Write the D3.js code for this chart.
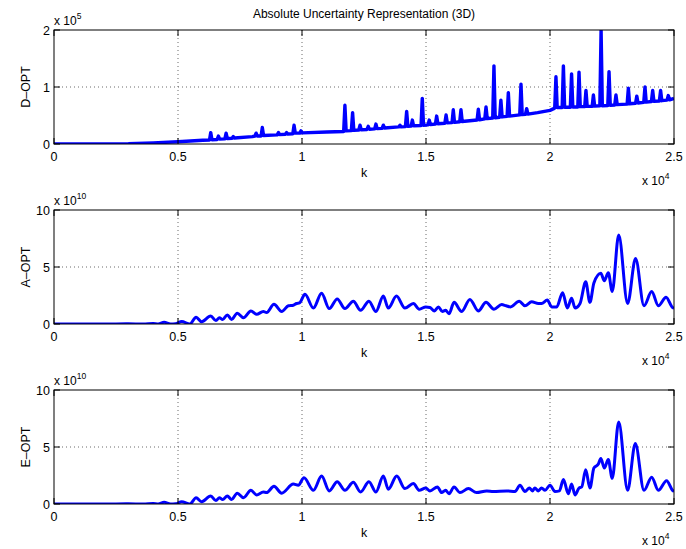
<!DOCTYPE html>
<html>
<head>
<meta charset="utf-8">
<script src="https://cdn.jsdelivr.net/npm/d3@7"></script>
<style>
  body { margin: 0; background: #fff; }
  text { font-family: "Liberation Sans", Arial, sans-serif; fill: #000; }
</style>
</head>
<body>
<svg id="fig" width="686" height="549"></svg>
<script>
// k in units of 1e4, values in units of the axis exponent
var xTicks = [0, 0.5, 1, 1.5, 2, 2.5];
var xTickLabels = ["0", "0.5", "1", "1.5", "2", "2.5"];

var dTicks = [0, 1, 2];
var aTicks = [0, 5, 10];
var eTicks = [0, 5, 10];

var dOpt = [
  [0,0],[0.2,0.002],[0.3,0.006],[0.4,0.02],[0.5,0.04],[0.6,0.065],
  [0.627,0.07],[0.632,0.2],[0.637,0.075],
  [0.658,0.08],[0.663,0.14],[0.668,0.085],
  [0.689,0.09],[0.694,0.19],[0.699,0.095],
  [0.718,0.1],[0.723,0.13],[0.728,0.105],
  [0.8,0.13],[0.81,0.14],[0.815,0.19],[0.82,0.14],
  [0.835,0.14],[0.84,0.29],[0.845,0.15],
  [0.9,0.16],[0.905,0.2],[0.91,0.165],
  [0.933,0.17],[0.938,0.2],[0.943,0.175],
  [0.963,0.18],[0.968,0.33],[0.973,0.19],
  [0.991,0.19],[0.996,0.23],[1.001,0.195],
  [1.1,0.21],[1.168,0.22],[1.173,0.68],[1.178,0.23],
  [1.199,0.235],[1.204,0.55],[1.209,0.24],
  [1.229,0.245],[1.234,0.33],[1.239,0.25],
  [1.262,0.255],[1.267,0.31],[1.272,0.26],
  [1.293,0.265],[1.298,0.35],[1.303,0.27],
  [1.323,0.275],[1.328,0.33],[1.333,0.28],
  [1.39,0.3],[1.395,0.33],[1.4,0.3],
  [1.417,0.305],[1.422,0.57],[1.427,0.31],
  [1.44,0.315],[1.445,0.42],[1.45,0.32],
  [1.48,0.325],[1.485,0.8],[1.49,0.33],
  [1.508,0.335],[1.513,0.42],[1.518,0.34],
  [1.538,0.35],[1.543,0.49],[1.548,0.355],
  [1.576,0.365],[1.581,0.51],[1.586,0.37],
  [1.605,0.375],[1.61,0.6],[1.615,0.38],
  [1.636,0.39],[1.641,0.6],[1.646,0.395],
  [1.706,0.42],[1.711,0.61],[1.716,0.425],
  [1.737,0.44],[1.742,0.65],[1.747,0.445],
  [1.769,0.455],[1.774,1.37],[1.779,0.46],
  [1.797,0.47],[1.802,0.77],[1.807,0.475],
  [1.827,0.485],[1.832,0.9],[1.837,0.49],
  [1.878,0.51],[1.883,1.05],[1.888,0.515],
  [1.901,0.52],[1.906,0.62],[1.911,0.525],
  [1.95,0.55],[2.0,0.59],[2.015,0.62],
  [2.019,0.63],[2.024,1.18],[2.029,0.64],
  [2.049,0.64],[2.054,1.37],[2.059,0.645],
  [2.082,0.645],[2.087,1.23],[2.092,0.65],
  [2.112,0.65],[2.117,1.26],[2.122,0.655],
  [2.14,0.655],[2.145,0.94],[2.15,0.66],
  [2.17,0.66],[2.175,0.86],[2.18,0.665],
  [2.201,0.67],[2.206,2.0],[2.211,0.67],
  [2.233,0.675],[2.238,1.27],[2.243,0.68],
  [2.261,0.685],[2.266,0.86],[2.271,0.69],
  [2.311,0.7],[2.316,0.98],[2.321,0.705],
  [2.345,0.715],[2.35,0.84],[2.355,0.72],
  [2.378,0.73],[2.383,1.0],[2.388,0.735],
  [2.409,0.745],[2.414,0.94],[2.419,0.75],
  [2.441,0.755],[2.446,0.94],[2.451,0.76],
  [2.472,0.77],[2.477,0.85],[2.482,0.775],
  [2.5,0.8]
];

var aOpt = [
  [0,0],[0.2,0],[0.3,0.02],[0.36,0],[0.4,0.05],[0.42,0],[0.444,0.15],[0.47,0],[0.49,0.02],
  [0.515,0.22],[0.548,0],[0.573,0.6],[0.595,0.2],[0.632,0.7],[0.653,0.3],[0.667,0.55],
  [0.68,0.4],[0.699,0.8],[0.716,0.4],[0.739,0.95],[0.764,0.55],[0.794,1.15],[0.817,0.85],
  [0.844,1.1],[0.857,1.0],[0.887,1.73],[0.918,1.1],[0.945,1.6],[0.965,1.65],[0.978,1.8],
  [0.99,1.85],[1.012,2.6],[1.046,1.4],[1.079,2.7],[1.11,1.35],[1.142,2.2],[1.173,1.35],
  [1.207,2.0],[1.236,1.2],[1.27,2.0],[1.298,1.1],[1.328,2.45],[1.348,1.4],[1.381,2.45],
  [1.415,1.4],[1.449,1.8],[1.473,1.3],[1.499,1.5],[1.516,1.45],[1.534,1.15],[1.55,1.5],
  [1.566,1.1],[1.579,1.2],[1.593,0.9],[1.613,1.9],[1.644,1.1],[1.677,2.15],[1.711,1.15],
  [1.742,1.9],[1.774,1.3],[1.805,1.7],[1.823,1.6],[1.841,1.5],[1.876,2.0],[1.899,1.6],
  [1.926,1.95],[1.953,1.8],[1.966,1.8],[1.989,2.1],[2.007,1.5],[2.027,1.5],[2.051,2.75],
  [2.07,1.4],[2.087,2.25],[2.101,1.4],[2.121,1.8],[2.144,3.7],[2.161,1.9],[2.177,3.6],
  [2.205,4.45],[2.219,3.8],[2.235,4.5],[2.251,2.85],[2.277,7.8],[2.313,1.8],[2.345,5.75],
  [2.379,1.6],[2.41,2.85],[2.437,1.6],[2.468,2.35],[2.494,1.45],[2.5,1.4]
];

var eOpt = [
  [0,0],[0.2,0],[0.3,0.02],[0.36,0],[0.4,0.05],[0.42,0],[0.444,0.15],[0.47,0],[0.49,0.02],
  [0.515,0.2],[0.548,0],[0.573,0.55],[0.595,0.2],[0.632,0.7],[0.653,0.3],[0.667,0.55],
  [0.68,0.4],[0.699,0.7],[0.716,0.4],[0.739,0.95],[0.764,0.55],[0.794,1.2],[0.817,0.8],
  [0.844,1.05],[0.857,1.0],[0.887,1.55],[0.918,0.95],[0.965,1.75],[0.985,1.65],[1.008,2.3],
  [1.046,1.2],[1.079,2.45],[1.11,1.15],[1.142,1.95],[1.173,1.2],[1.207,1.9],[1.236,1.05],
  [1.27,1.95],[1.298,1.05],[1.328,2.45],[1.348,1.3],[1.382,2.45],[1.415,1.35],[1.449,1.8],
  [1.473,1.2],[1.499,1.4],[1.516,1.15],[1.546,1.5],[1.563,1.0],[1.579,1.2],[1.593,0.9],
  [1.613,1.5],[1.637,1.0],[1.671,1.35],[1.704,1.0],[1.745,1.15],[1.771,1.1],[1.825,1.15],
  [1.859,1.1],[1.879,1.65],[1.899,1.1],[1.917,1.4],[1.929,1.15],[1.939,1.4],[1.953,1.15],
  [1.966,1.4],[1.98,1.2],[2.0,1.65],[2.02,1.1],[2.038,1.15],[2.054,2.15],[2.074,0.9],
  [2.087,1.75],[2.101,0.8],[2.117,1.4],[2.128,1.5],[2.144,3.0],[2.161,1.4],[2.177,3.15],
  [2.195,3.5],[2.205,4.0],[2.219,3.15],[2.235,3.9],[2.251,2.25],[2.277,7.2],[2.313,1.2],
  [2.344,5.3],[2.379,1.2],[2.41,2.35],[2.437,1.2],[2.47,2.05],[2.494,1.2],[2.5,1.1]
];

var svg = d3.select("#fig");
var left = 54, right = 674;
var panelH = 114;

var x = d3.scaleLinear().domain([0, 2.5]).range([left, right]);

var panels = [
  {top: 30,  label: "D\u2013OPT", exp: "5",  ticks: dTicks, max: 2,  data: dOpt, curve: d3.curveLinear, sw: 3.4},
  {top: 210, label: "A\u2013OPT", exp: "10", ticks: aTicks, max: 10, data: aOpt, curve: d3.curveMonotoneX, sw: 3},
  {top: 390, label: "E\u2013OPT", exp: "10", ticks: eTicks, max: 10, data: eOpt, curve: d3.curveMonotoneX, sw: 3}
];

svg.append("text")
    .attr("x", 364).attr("y", 18)
    .attr("text-anchor", "middle")
    .style("font-size", "12px")
    .text("Absolute Uncertainty Representation (3D)");

panels.forEach(function(p, i) {
  var bottom = p.top + panelH;
  var y = d3.scaleLinear().domain([0, p.max]).range([bottom, p.top]);
  var g = svg.append("g");

  g.append("clipPath").attr("id", "clip" + i)
    .append("rect")
      .attr("x", left).attr("y", p.top)
      .attr("width", right - left).attr("height", panelH);

  // dotted grid
  g.selectAll(".gx")
    .data(xTicks.slice(1, -1))
    .join("line")
      .attr("x1", d => x(d)).attr("x2", d => x(d))
      .attr("y1", p.top).attr("y2", bottom)
      .attr("stroke", "#444").attr("stroke-width", 0.8)
      .attr("stroke-dasharray", "1,3");
  g.selectAll(".gy")
    .data(p.ticks.slice(1, -1))
    .join("line")
      .attr("x1", left).attr("x2", right)
      .attr("y1", d => y(d)).attr("y2", d => y(d))
      .attr("stroke", "#444").attr("stroke-width", 0.8)
      .attr("stroke-dasharray", "1,3");

  var line = d3.line()
      .x(d => x(d[0]))
      .y(d => y(d[1]))
      .curve(p.curve);

  g.append("path")
      .datum(p.data)
      .attr("clip-path", "url(#clip" + i + ")")
      .attr("d", line)
      .attr("fill", "none")
      .attr("stroke", "#0000ff")
      .attr("stroke-width", p.sw)
      .attr("stroke-linejoin", "round");

  // box
  g.append("rect")
      .attr("x", left).attr("y", p.top)
      .attr("width", right - left).attr("height", panelH)
      .attr("fill", "none").attr("stroke", "#000").attr("stroke-width", 1);

  // ticks (inside, all four sides)
  xTicks.forEach(function(t) {
    g.append("line").attr("x1", x(t)).attr("x2", x(t))
      .attr("y1", bottom).attr("y2", bottom - 6).attr("stroke", "#000");
    g.append("line").attr("x1", x(t)).attr("x2", x(t))
      .attr("y1", p.top).attr("y2", p.top + 6).attr("stroke", "#000");
  });
  p.ticks.forEach(function(t) {
    g.append("line").attr("x1", left).attr("x2", left + 6)
      .attr("y1", y(t)).attr("y2", y(t)).attr("stroke", "#000");
    g.append("line").attr("x1", right).attr("x2", right - 6)
      .attr("y1", y(t)).attr("y2", y(t)).attr("stroke", "#000");
  });

  g.selectAll(".xl")
    .data(xTicks)
    .join("text")
      .attr("x", d => x(d))
      .attr("y", bottom + 17)
      .attr("text-anchor", "middle")
      .style("font-size", "12.5px")
      .text((d, j) => xTickLabels[j]);

  g.selectAll(".yl")
    .data(p.ticks)
    .join("text")
      .attr("x", left - 4)
      .attr("y", d => y(d) + 4.5)
      .attr("text-anchor", "end")
      .style("font-size", "12.5px")
      .text(d => d);

  g.append("text")
      .attr("x", x(1.25))
      .attr("y", bottom + 33)
      .attr("text-anchor", "middle")
      .style("font-size", "12.5px")
      .text("k");

  g.append("text")
      .attr("transform", "translate(" + 30 + "," + (p.top + panelH / 2) + ") rotate(-90)")
      .attr("text-anchor", "middle")
      .style("font-size", "12.5px")
      .text(p.label);

  // y exponent
  var ye = g.append("text")
      .attr("x", left).attr("y", p.top - 5)
      .style("font-size", "12px");
  ye.append("tspan").text("x 10");
  ye.append("tspan").attr("dy", -6).style("font-size", "8.5px").text(p.exp);

  // x exponent
  var xe = g.append("text")
      .attr("x", 642).attr("y", bottom + 41)
      .style("font-size", "12px");
  xe.append("tspan").text("x 10");
  xe.append("tspan").attr("dy", -6).style("font-size", "8.5px").text("4");
});
</script>
</body>
</html>
